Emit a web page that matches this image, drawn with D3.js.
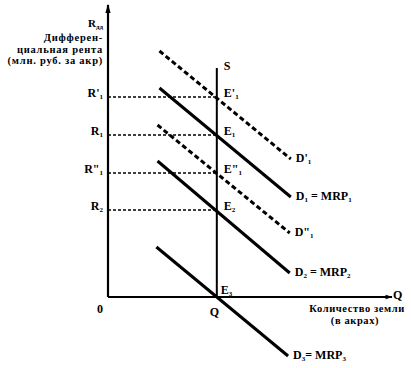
<!DOCTYPE html>
<html><head><meta charset="utf-8">
<script src="https://cdn.jsdelivr.net/npm/d3@7"></script>
<style>
body{margin:0;background:#fff}
text{font-family:"Liberation Serif","DejaVu Serif",serif;font-weight:bold;fill:#000}
</style></head>
<body><svg id="c" width="411" height="368"></svg>
<script>
// Data (quantity of land, rent)
const supplyQ = 100;
const rentLevels = [
  {name:"R", prime:"'", sub:"1", value:200},
  {name:"R", prime:"", sub:"1", value:162},
  {name:"R", prime:"\"", sub:"1", value:124},
  {name:"R", prime:"", sub:"2", value:87}
];
const equilibria = [
  {name:"E", prime:"'", sub:"1", value:200},
  {name:"E", prime:"", sub:"1", value:162},
  {name:"E", prime:"\"", sub:"1", value:124},
  {name:"E", prime:"", sub:"2", value:87},
  {name:"E", prime:"", sub:"3", value:0}
];
const demandCurves = [
  {id:"D'1", dashed:true,  label:["D","'","1",""],  pts:[[47.3,246],[168,138]]},
  {id:"D1",  dashed:false, label:["D","","1"," = MRP","1"], pts:[[47.3,209],[168,100]]},
  {id:"D\"1",dashed:true,  label:["D","\"","1",""], pts:[[45.5,172],[167,64]]},
  {id:"D2",  dashed:false, label:["D","","2"," = MRP","2"], pts:[[45.5,136],[167,24]]},
  {id:"D3",  dashed:false, label:["D","","3","= MRP","3"], pts:[[44.5,50],[165.5,-59]]}
];
const yTitle = ["Дифферен-","циальная рента","(млн. руб. за акр)"];
const xTitle = ["Количество земли","(в акрах)"];

const svg = d3.select("#c");
const x = d3.scaleLinear().domain([0,261]).range([108,392]);
const y = d3.scaleLinear().domain([0,292]).range([297,5]);

// axes
svg.append("defs").append("marker").attr("id","arr").attr("viewBox","0 0 10 10")
  .attr("refX",9).attr("refY",5).attr("markerWidth",5).attr("markerHeight",4)
  .attr("orient","auto").attr("markerUnits","strokeWidth")
  .append("path").attr("d","M0,2 L10,5 L0,8 Z").attr("fill","#000");
svg.append("line").attr("x1",x(0)).attr("y1",y(0)).attr("x2",x(0)).attr("y2",y(292))
  .attr("stroke","#000").attr("stroke-width",2.2).attr("marker-end","url(#arr)");
svg.append("line").attr("x1",x(0)).attr("y1",y(0)).attr("x2",x(261)).attr("y2",y(0))
  .attr("stroke","#000").attr("stroke-width",1.8).attr("marker-end","url(#arr)");

// supply
svg.append("line").attr("x1",x(supplyQ)).attr("x2",x(supplyQ)).attr("y1",y(0)).attr("y2",y(229))
  .attr("stroke","#000").attr("stroke-width",2);

// rent dashed guides
svg.selectAll(".g").data(rentLevels).enter().append("line")
  .attr("x1",x(0)).attr("x2",x(supplyQ)).attr("y1",d=>y(d.value)).attr("y2",d=>y(d.value))
  .attr("stroke","#000").attr("stroke-width",1.3).attr("stroke-dasharray","3,2");

// demand curves
const line = d3.line().x(d=>x(d[0])).y(d=>y(d[1]));
svg.selectAll(".d").data(demandCurves).enter().append("path")
  .attr("d",d=>line(d.pts)).attr("fill","none").attr("stroke","#000")
  .attr("stroke-width",3).attr("stroke-dasharray",d=>d.dashed?"5,3":null);

function lab(xp,yp,parts,anchor,fs){
  // parts: [main, prime, sub, rest, restSub]
  const t = svg.append("text").attr("x",xp).attr("y",yp).attr("font-size",fs||12)
    .attr("text-anchor",anchor||"start");
  t.append("tspan").text(parts[0]+(parts[1]||""));
  if(parts[2]) t.append("tspan").attr("font-size",7).attr("dy",2).text(parts[2]);
  if(parts[3]) t.append("tspan").attr("dy",parts[2]?-2:0).text(parts[3]);
  if(parts[4]) t.append("tspan").attr("font-size",7).attr("dy",2).text(parts[4]);
  return t;
}

// rent labels
rentLevels.forEach(r=>lab(x(0)-5,y(r.value),[r.name,r.prime,r.sub],"end"));
// equilibrium labels
equilibria.forEach((e,i)=>lab(x(supplyQ)+(e.value===0?4:7),y(e.value)+(e.value===0?-3:0),[e.name,e.prime,e.sub]));
// demand labels
demandCurves.forEach(d=>{
  const p=d.pts[1];
  lab(x(p[0])+5,y(p[1])+3,d.label);
});

// S
svg.append("text").attr("x",x(supplyQ)+7).attr("y",y(227)).attr("font-size",12).text("S");
// axis labels
lab(x(0)-5,27,["R","","дд"],"end",11);
yTitle.forEach((s,i)=>svg.append("text").attr("x",103).attr("y",41+i*11.5)
  .attr("text-anchor","end").attr("font-size",10.5).attr("letter-spacing",0.75).text(s));
svg.append("text").attr("x",97).attr("y",313).attr("font-size",12).text("0");
svg.append("text").attr("x",x(supplyQ)-7).attr("y",316).attr("font-size",12).text("Q");
svg.append("text").attr("x",393).attr("y",299).attr("font-size",12).text("Q");
svg.append("text").attr("x",405).attr("y",312).attr("text-anchor","end").attr("font-size",10.5).attr("letter-spacing",0.6).text(xTitle[0]);
svg.append("text").attr("x",355).attr("y",324).attr("text-anchor","middle").attr("font-size",10.5).attr("letter-spacing",0.6).text(xTitle[1]);
</script></body></html>
